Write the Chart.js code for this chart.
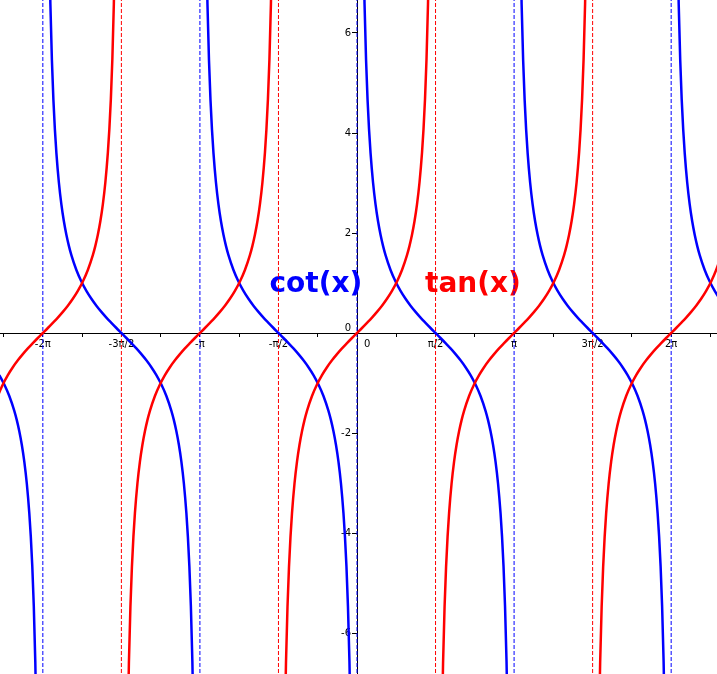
<!DOCTYPE html>
<html>
<head>
<meta charset="utf-8">
<script src="https://cdn.jsdelivr.net/npm/chart.js@4/dist/chart.umd.min.js"></script>
<style>
html,body{margin:0;padding:0;background:#fff;}
#wrap{width:717px;height:674px;position:relative;}
</style>
</head>
<body>
<div id="wrap"><canvas id="plot"></canvas></div>
<script>
// ---- data ----

// one branch, sampled at offsets from its centre
let branchOffsets=[-1.45,-1.42,-1.39,-1.36,-1.33,-1.3,-1.25,-1.2,-1.15,-1.1,-1.05,-1.0,-0.9,-0.8,-0.7,-0.6,-0.5,-0.4,-0.3,-0.2,-0.1,0,
0.1,0.2,0.3,0.4,0.5,0.6,0.7,0.8,0.9,1.0,1.05,1.1,1.15,1.2,1.25,1.3,1.33,1.36,1.39,1.42,1.45]

let tanBranch=[-8.238,-6.581,-5.471,-4.673,-4.072,-3.602,-3.010,-2.572,-2.234,-1.965,-1.743,-1.557,-1.260,-1.030,-0.842,-0.684,-0.546,-0.423,-0.309,-0.203,-0.100,0,
0.100,0.203,0.309,0.423,0.546,0.684,0.842,1.030,1.260,1.557,1.743,1.965,2.234,2.572,3.010,3.602,4.072,4.673,5.471,6.581,8.238]

let cotBranch=[8.238,6.581,5.471,4.673,4.072,3.602,3.010,2.572,2.234,1.965,1.743,1.557,1.260,1.030,0.842,0.684,0.546,0.423,0.309,0.203,0.100,0,
-0.100,-0.203,-0.309,-0.423,-0.546,-0.684,-0.842,-1.030,-1.260,-1.557,-1.743,-1.965,-2.234,-2.572,-3.010,-3.602,-4.072,-4.673,-5.471,-6.581,-8.238]

// branch centres
let tanCenters=[-6.2832,-3.1416,0,3.1416,6.2832]
let cotCenters=[-7.854,-4.7124,-1.5708,1.5708,4.7124,7.854]

// dashed asymptotes
let tanAsymptotes=[-4.7124,-1.5708,1.5708,4.7124]
let cotAsymptotes=[-6.2832,-3.1416,0,3.1416,6.2832]

// ticks
let xTicks=[-7.0686,-6.2832,-5.4978,-4.7124,-3.927,-3.1416,-2.3562,-1.5708,-0.7854,0,0.7854,1.5708,2.3562,3.1416,3.927,4.7124,5.4978,6.2832,7.0686]
let xLabelValues=[-6.2832,-4.7124,-3.1416,-1.5708,1.5708,3.1416,4.7124,6.2832]
let xLabels=["-2π","-3π/2","-π","-π/2","π/2","π","3π/2","2π"]
let yTicks=[-6,-4,-2,0,2,4,6]
let yLabelValues=[-6,-4,-2,2,4,6]
let yLabels=["-6","-4","-2","2","4","6"]


// ---- build point lists ----

function branches(centers,values){
let pts=[]
centers.forEach(c=>{
branchOffsets.forEach((o,i)=>pts.push({x:c+o,y:values[i]}))
pts.push({x:c+1.5708,y:null})
})
return pts
}

function verticals(xs){
let pts=[]
xs.forEach(v=>{
pts.push({x:v,y:-8})
pts.push({x:v,y:8})
pts.push({x:v,y:null})
})
return pts
}


// tick labels and the two names, drawn under the curves
let labelPlugin={
id:"labels",
beforeDatasetsDraw(chart){
let ctx=chart.ctx
let sx=chart.scales.x
let sy=chart.scales.y
let x0=sx.getPixelForValue(0)
let y0=sy.getPixelForValue(0)

ctx.save()
ctx.fillStyle="#000"
ctx.font='10px "DejaVu Sans"'

ctx.textAlign="center"
ctx.textBaseline="alphabetic"
xLabelValues.forEach((v,i)=>ctx.fillText(xLabels[i],sx.getPixelForValue(v),y0+14))

ctx.textAlign="right"
ctx.textBaseline="middle"
yLabelValues.forEach((v,i)=>ctx.fillText(yLabels[i],x0-6,sy.getPixelForValue(v)+0.5))

// the two zeros
ctx.textBaseline="alphabetic"
ctx.fillText("0",x0-6,y0-2)
ctx.textAlign="left"
ctx.fillText("0",x0+7,y0+14)

ctx.font='bold 28px "DejaVu Sans"'
ctx.fillStyle="#0000ff"
ctx.fillText("cot(x)",sx.getPixelForValue(-1.75),sy.getPixelForValue(0.82))
ctx.fillStyle="#ff0000"
ctx.fillText("tan(x)",sx.getPixelForValue(1.36),sy.getPixelForValue(0.82))
ctx.restore()
}
}


new Chart(document.getElementById("plot"),{

type:"line",

data:{
datasets:[
{
label:"tan(x)",
data:branches(tanCenters,tanBranch),
borderColor:"#ff0000",
borderWidth:2.5,
pointRadius:0,
cubicInterpolationMode:"monotone"
},
{
label:"cot(x)",
data:branches(cotCenters,cotBranch),
borderColor:"#0000ff",
borderWidth:2.5,
pointRadius:0,
cubicInterpolationMode:"monotone"
},
{
label:"cot asymptotes",
data:verticals(cotAsymptotes),
borderColor:"#0000ff",
borderWidth:1,
borderDash:[4,2],
pointRadius:0
},
{
label:"tan asymptotes",
data:verticals(tanAsymptotes),
borderColor:"#ff0000",
borderWidth:1,
borderDash:[4,2],
pointRadius:0
}
]
},

options:{
responsive:true,
maintainAspectRatio:false,
animation:false,
events:[],
layout:{padding:0},
plugins:{
legend:{display:false},
tooltip:{enabled:false}
},
scales:{
x:{
type:"linear",
min:-7.14,
max:7.2,
position:{y:0},
afterBuildTicks:s=>{s.ticks=xTicks.map(v=>({value:v}))},
grid:{display:true,drawOnChartArea:false,drawTicks:true,tickLength:3,color:"#000"},
border:{display:true,color:"#000",width:1},
ticks:{display:false}
},
y:{
type:"linear",
min:-6.82,
max:6.66,
position:{x:0},
afterBuildTicks:s=>{s.ticks=yTicks.map(v=>({value:v}))},
grid:{display:true,drawOnChartArea:false,drawTicks:true,tickLength:5,color:"#000"},
border:{display:true,color:"#000",width:1},
ticks:{display:false}
}
}
},

plugins:[labelPlugin]

})
</script>
</body>
</html>
